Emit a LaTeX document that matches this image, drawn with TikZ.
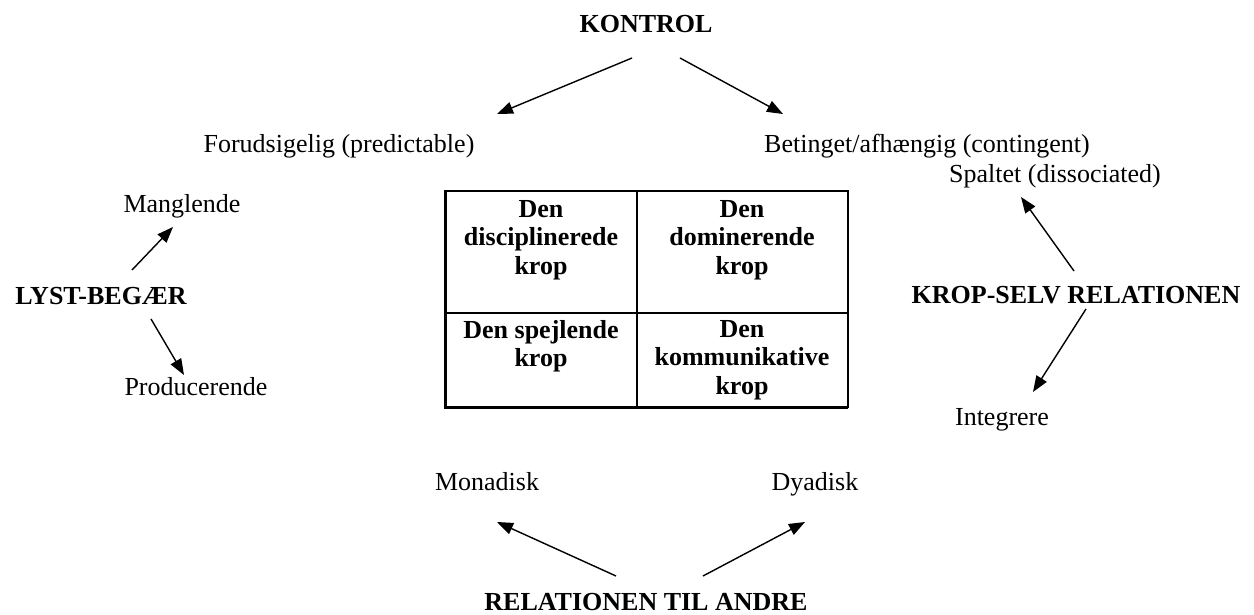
\documentclass[tikz,border=0pt]{standalone}
\usepackage{fontspec}
\setmainfont{Liberation Serif}
\usetikzlibrary{arrows.meta}
\begin{document}
\begin{tikzpicture}[x=1pt,y=-1pt,
  lab/.style={inner sep=0pt, anchor=base, font=\fontsize{26}{28.5}\selectfont},
  head/.style={inner sep=0pt, anchor=base, font=\fontsize{26}{28.5}\selectfont\bfseries},
  cell/.style={inner sep=0pt, anchor=north, align=center, font=\fontsize{26}{28.5}\selectfont\bfseries},
  arr/.style={line width=1.4pt, -{Triangle[length=16pt,width=12pt]}},
  grid/.style={line width=1.3pt},
  frame/.style={line width=1.8pt},
  heavy/.style={line width=3pt},
]
\useasboundingbox (0,0) rectangle (1254,615);

% headings
\node[head] (kontrol) at (646,33) {KONTROL};
\node[head] (lyst) at (101,304) {LYST-BEGÆR};
\node[head] (kropselv) at (1076,303) {KROP-SELV RELATIONEN};
\node[head] (relation) at (646,610) {RELATIONEN TIL ANDRE};

% poles
\node[lab] (forud) at (339,153) {Forudsigelig (predictable)};
\node[lab] (betinget) at (927,153) {Betinget/afhængig (contingent)};
\node[lab] (spaltet) at (1055,183) {Spaltet (dissociated)};
\node[lab] (integrere) at (1002,425) {Integrere};
\node[lab] (mangl) at (182,213) {Manglende};
\node[lab] (produc) at (196,395) {Producerende};
\node[lab] (monad) at (487,490) {Monadisk};
\node[lab] (dyad) at (815,490) {Dyadisk};

% arrow endpoints
\coordinate (k1s) at (632,58);  \coordinate (k1e) at (497,114);
\coordinate (k2s) at (680,58);  \coordinate (k2e) at (783,114);
\coordinate (l1s) at (132,270); \coordinate (l1e) at (173,227);
\coordinate (l2s) at (151,319); \coordinate (l2e) at (184,375);
\coordinate (s1s) at (1074,271); \coordinate (s1e) at (1021,197);
\coordinate (s2s) at (1086,309); \coordinate (s2e) at (1033,392);
\coordinate (r1s) at (616,576); \coordinate (r1e) at (497,522);
\coordinate (r2s) at (703,576); \coordinate (r2e) at (805,522);

\draw[arr] (k1s) -- (k1e);
\draw[arr] (k2s) -- (k2e);
\draw[arr] (l1s) -- (l1e);
\draw[arr] (l2s) -- (l2e);
\draw[arr] (s1s) -- (s1e);
\draw[arr] (s2s) -- (s2e);
\draw[arr] (r1s) -- (r1e);
\draw[arr] (r2s) -- (r2e);

% table
\coordinate (tl) at (445,191);
\coordinate (br) at (848,407);
\coordinate (bl) at (445,407);
\coordinate (tm) at (637,191);
\coordinate (bm) at (637,407);
\coordinate (ml) at (445,313);
\coordinate (mr) at (848,313);
\draw[grid] (tm) -- (bm);
\draw[grid] (ml) -- (mr);
\draw[frame] (tl) rectangle (br);
\draw[heavy] (tl) -- (bl) -- (br);

\node[cell] (c1) at (541,200) {Den\\disciplinerede\\krop};
\node[cell] (c2) at (742,200) {Den\\dominerende\\krop};
\node[cell] (c3) at (541,320) {Den spejlende\\krop};
\node[cell] (c4) at (742,320) {Den\\kommunikative\\krop};
\end{tikzpicture}
\end{document}
